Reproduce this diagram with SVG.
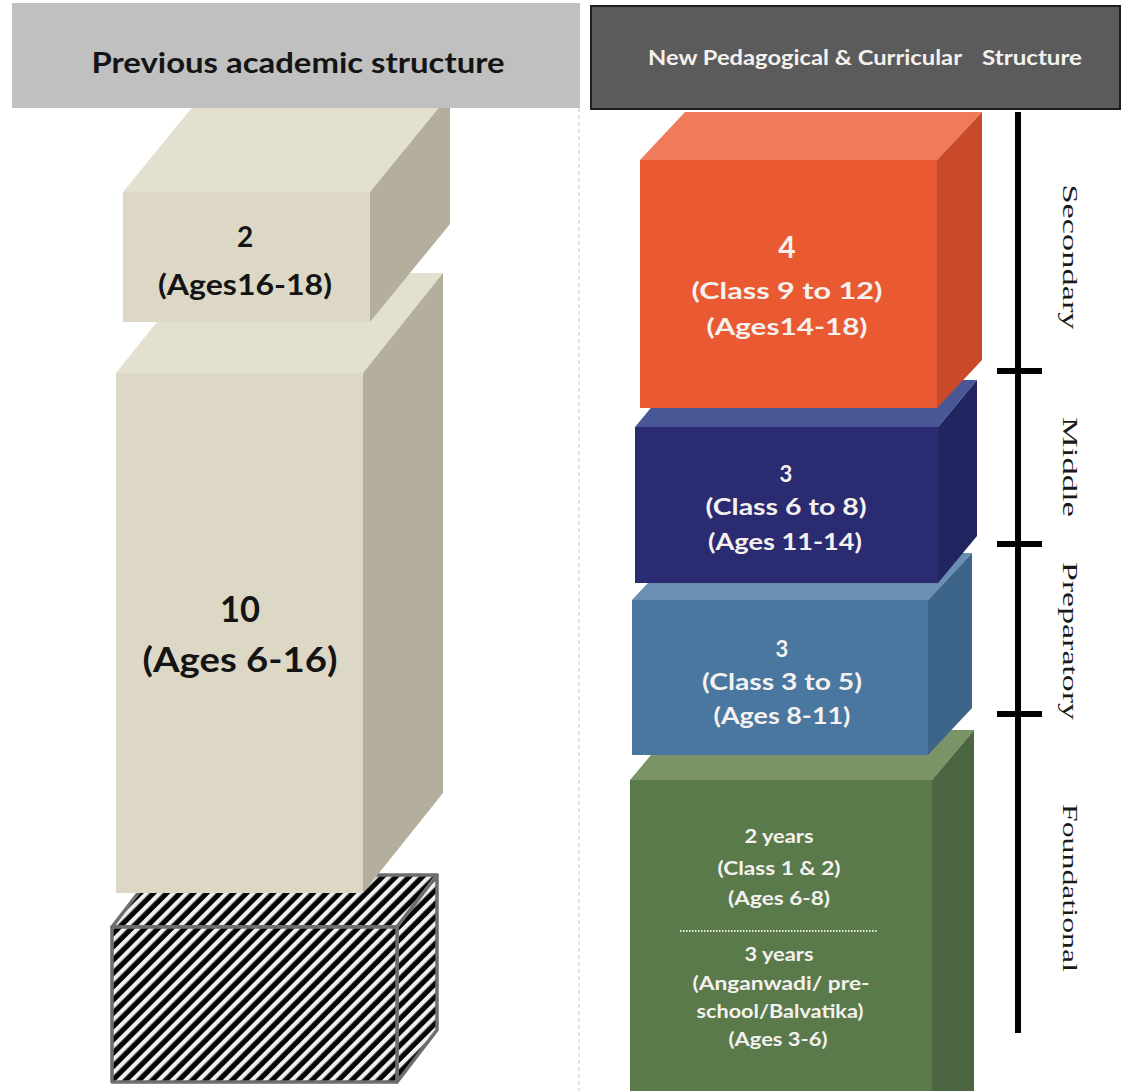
<svg xmlns="http://www.w3.org/2000/svg" width="1123" height="1091" viewBox="0 0 1123 1091">
  <style>
    .lbl { font-family: "Lato", "Open Sans", "Liberation Sans", sans-serif; font-weight: bold; text-anchor: middle; }
    .dark { fill: #141414; }
    .light { fill: #f4f1ee; }
    .stage { font-family: "Liberation Serif", "DejaVu Serif", serif; font-size: 22px; fill: #1a1a1a; text-anchor: middle; }
    .beige-f { fill: #dcd8c5; }
    .beige-t { fill: #e4e0cf; }
    .beige-s { fill: #b4af9c; }
    .hatch { fill: url(#stripes); stroke: #6e6e6e; stroke-width: 3.5; stroke-linejoin: round; }
  </style>
  <defs>
    <pattern id="stripes" patternUnits="userSpaceOnUse" width="9.4" height="9.4" patternTransform="rotate(45)">
      <rect x="0" y="0" width="9.4" height="9.4" fill="#050505"/>
      <rect x="0" y="0" width="4.2" height="9.4" fill="#f0f0f0"/>
    </pattern>
  </defs>
  <rect width="1123" height="1091" fill="#ffffff"/>

  <!-- separator -->
  <line x1="579" y1="108" x2="579" y2="1091" stroke="#cfcfcf" stroke-width="1.2" stroke-dasharray="4 3"/>

  <!-- LEFT: previous structure -->
  <g id="pre-school-box">
    <polygon class="hatch" points="112,927 152,875 437,875 397,927"/>
    <polygon class="hatch" points="397,927 437,875 437,1030 397,1082"/>
    <rect class="hatch" x="112" y="927" width="285" height="155"/>
  </g>
  <g id="box-10">
    <polygon class="beige-t" points="116,373 196,273 443,273 363,373"/>
    <polygon class="beige-s" points="363,373 443,273 443,793 363,893"/>
    <rect class="beige-f" x="116" y="373" width="247" height="520"/>
    <text class="lbl dark" x="240" y="622" font-size="36" textLength="40" lengthAdjust="spacingAndGlyphs">10</text>
    <text class="lbl dark" x="240" y="672" font-size="34" textLength="195" lengthAdjust="spacingAndGlyphs">(Ages 6-16)</text>
  </g>
  <g id="box-2">
    <polygon class="beige-t" points="123,192 203,94 450,94 370,192"/>
    <polygon class="beige-s" points="370,192 450,94 450,224 370,322"/>
    <rect class="beige-f" x="123" y="192" width="247" height="130"/>
    <text class="lbl dark" x="245" y="247" font-size="28">2</text>
    <text class="lbl dark" x="245" y="295" font-size="28" textLength="174" lengthAdjust="spacingAndGlyphs">(Ages16-18)</text>
  </g>

  <!-- headers -->
  <g id="header-previous">
    <rect x="12" y="3" width="568" height="105" fill="#c0c0c0"/>
    <text class="lbl dark" x="298" y="73" font-size="28" textLength="413" lengthAdjust="spacingAndGlyphs">Previous academic structure</text>
  </g>
  <g id="header-new">
    <rect x="591" y="6" width="529" height="103" fill="#5b5b5b" stroke="#1e1e1e" stroke-width="2"/>
    <text class="lbl light" x="805" y="65" font-size="21" textLength="314" lengthAdjust="spacingAndGlyphs">New Pedagogical &amp; Curricular</text>
    <text class="lbl light" x="1032" y="65" font-size="21" textLength="100" lengthAdjust="spacingAndGlyphs">Structure</text>
  </g>

  <!-- RIGHT: new structure -->
  <g id="foundational-box">
    <polygon fill="#7a9467" points="630,780 672,730 974,730 932,780"/>
    <polygon fill="#4b6640" points="932,780 974,730 974,1091 932,1091"/>
    <rect x="630" y="780" width="302" height="311" fill="#5a7a4b"/>
    <text class="lbl light" x="779" y="843" font-size="18" textLength="69" lengthAdjust="spacingAndGlyphs">2 years</text>
    <text class="lbl light" x="779" y="875" font-size="18" textLength="123" lengthAdjust="spacingAndGlyphs">(Class 1 &amp; 2)</text>
    <text class="lbl light" x="779" y="905" font-size="18" textLength="102" lengthAdjust="spacingAndGlyphs">(Ages 6-8)</text>
    <line x1="680" y1="931" x2="877" y2="931" stroke="#e8ebe0" stroke-width="2" stroke-dasharray="1.5 1.5"/>
    <text class="lbl light" x="779" y="961" font-size="18" textLength="69" lengthAdjust="spacingAndGlyphs">3 years</text>
    <text class="lbl light" x="781" y="990" font-size="18" textLength="177" lengthAdjust="spacingAndGlyphs">(Anganwadi/ pre-</text>
    <text class="lbl light" x="780" y="1018" font-size="18" textLength="167" lengthAdjust="spacingAndGlyphs">school/Balvatika)</text>
    <text class="lbl light" x="778" y="1046" font-size="18" textLength="99" lengthAdjust="spacingAndGlyphs">(Ages 3-6)</text>
  </g>
  <g id="preparatory-box">
    <polygon fill="#6b8fb2" points="632,600 676,553 972,553 928,600"/>
    <polygon fill="#3c6589" points="928,600 972,553 972,708 928,755"/>
    <rect x="632" y="600" width="296" height="155" fill="#4a77a0"/>
    <text class="lbl light" x="782" y="657" font-size="22">3</text>
    <text class="lbl light" x="782" y="690" font-size="22" textLength="160" lengthAdjust="spacingAndGlyphs">(Class 3 to 5)</text>
    <text class="lbl light" x="782" y="724" font-size="22" textLength="137" lengthAdjust="spacingAndGlyphs">(Ages 8-11)</text>
  </g>
  <g id="middle-box">
    <polygon fill="#4a5797" points="635,427 674,380 977,380 938,427"/>
    <polygon fill="#222660" points="938,427 977,380 977,536 938,583"/>
    <rect x="635" y="427" width="303" height="156" fill="#2b2b72"/>
    <text class="lbl light" x="786" y="482" font-size="22">3</text>
    <text class="lbl light" x="786" y="515" font-size="22" textLength="161" lengthAdjust="spacingAndGlyphs">(Class 6 to 8)</text>
    <text class="lbl light" x="785" y="550" font-size="22" textLength="154" lengthAdjust="spacingAndGlyphs">(Ages 11-14)</text>
  </g>
  <g id="secondary-box">
    <polygon fill="#ef7b5b" points="640,160 685,112 982,112 937,160"/>
    <polygon fill="#c9492b" points="937,160 982,112 982,360 937,408"/>
    <rect x="640" y="160" width="297" height="248" fill="#e95a33"/>
    <text class="lbl light" x="787" y="258" font-size="30">4</text>
    <text class="lbl light" x="787" y="299" font-size="23" textLength="191" lengthAdjust="spacingAndGlyphs">(Class 9 to 12)</text>
    <text class="lbl light" x="787" y="335" font-size="23" textLength="161" lengthAdjust="spacingAndGlyphs">(Ages14-18)</text>
  </g>

  <!-- stage scale -->
  <g id="connectors">
    <line x1="1018" y1="112" x2="1018" y2="1033" stroke="#000" stroke-width="6"/>
    <line x1="997" y1="371" x2="1042" y2="371" stroke="#000" stroke-width="6"/>
    <line x1="997" y1="544" x2="1042" y2="544" stroke="#000" stroke-width="6"/>
    <line x1="997" y1="714" x2="1042" y2="714" stroke="#000" stroke-width="6"/>
  </g>
  <g id="stage-secondary">
    <text class="stage" transform="translate(1070,257) rotate(90)" dominant-baseline="central" textLength="145" lengthAdjust="spacingAndGlyphs">Secondary</text>
  </g>
  <g id="stage-middle">
    <text class="stage" transform="translate(1070,467) rotate(90)" dominant-baseline="central" textLength="100" lengthAdjust="spacingAndGlyphs">Middle</text>
  </g>
  <g id="stage-preparatory">
    <text class="stage" transform="translate(1070,641) rotate(90)" dominant-baseline="central" textLength="158" lengthAdjust="spacingAndGlyphs">Preparatory</text>
  </g>
  <g id="stage-foundational">
    <text class="stage" transform="translate(1070,888) rotate(90)" dominant-baseline="central" textLength="168" lengthAdjust="spacingAndGlyphs">Foundational</text>
  </g>
</svg>
